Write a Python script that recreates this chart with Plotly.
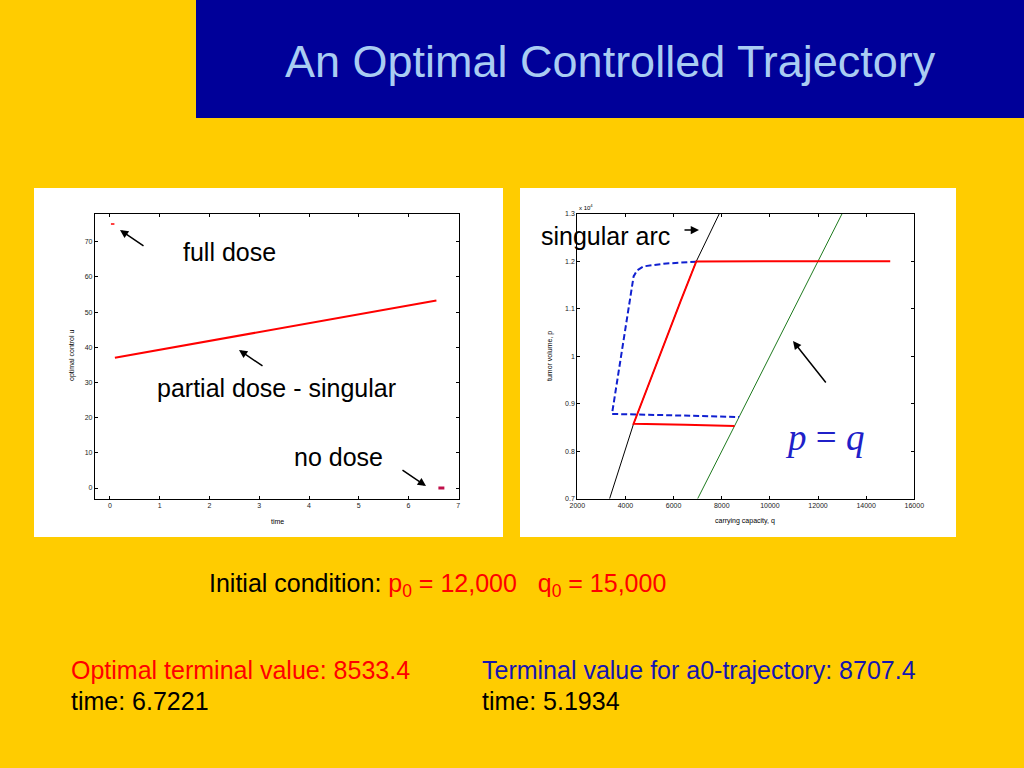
import plotly.graph_objects as go

# ---------------- data ----------------
# left panel: optimal control u(t)
full_t = [0.02, 0.09]
full_u = [75.0, 75.0]
partial_t = [0.10, 6.56]
partial_u = [37.0, 53.3]
none_t = [6.60, 6.72]
none_u = [0.0, 0.0]
left_xticks = [0, 1, 2, 3, 4, 5, 6, 7]
left_yticks = [0, 10, 20, 30, 40, 50, 60, 70]

# right panel: phase plane (q, p)
arc_q = [3342, 3800, 4339, 5000, 5650, 6300, 6943, 7420, 7899]
arc_p = [7000, 7750, 8579, 9450, 10320, 11170, 11996, 12510, 13000]
diag_q = [7000, 13000]
diag_p = [7000, 13000]
opt_q = [15000, 10000, 6943, 6300, 5650, 5000, 4339, 6500, 8533]
opt_p = [12000, 12000, 11996, 11170, 10320, 9450, 8579, 8555, 8533]
a0_q = [6943, 5585, 4754, 4480, 4339, 3441, 6000, 8720]
a0_p = [11990, 11947, 11891, 11807, 11680, 8784, 8755, 8720]
right_xticks = [2000, 4000, 6000, 8000, 10000, 12000, 14000, 16000]
right_xticklabels = ["2000", "4000", "6000", "8000", "10000", "12000", "14000", "16000"]
right_yticks = [7000, 8000, 9000, 10000, 11000, 12000, 13000]
right_yticklabels = ["0.7", "0.8", "0.9", "1", "1.1", "1.2", "1.3"]

W, H = 1024, 768
def px(x):
    return x / W
def py(y):
    return 1 - y / H

YELLOW = "#FFCC00"
RED = "#FF0000"
BLUE_TXT = "#1515B0"
FONT = "Liberation Sans, Arial, sans-serif"

fig = go.Figure()

# left traces
fig.add_trace(go.Scatter(x=full_t, y=full_u, mode="lines", line=dict(color=RED, width=1.5),
                         xaxis="x", yaxis="y", showlegend=False))
fig.add_trace(go.Scatter(x=partial_t, y=partial_u, mode="lines", line=dict(color=RED, width=2),
                         xaxis="x", yaxis="y", showlegend=False))
fig.add_trace(go.Scatter(x=none_t, y=none_u, mode="lines", line=dict(color="#C0104A", width=3),
                         xaxis="x", yaxis="y", showlegend=False))

# right traces
fig.add_trace(go.Scatter(x=arc_q, y=arc_p, mode="lines", line=dict(color="black", width=1),
                         xaxis="x2", yaxis="y2", showlegend=False))
fig.add_trace(go.Scatter(x=diag_q, y=diag_p, mode="lines", line=dict(color="#1E7A1E", width=1),
                         xaxis="x2", yaxis="y2", showlegend=False))
fig.add_trace(go.Scatter(x=a0_q, y=a0_p, mode="lines", line=dict(color="#1020D0", width=2, dash="6px,3px"),
                         xaxis="x2", yaxis="y2", showlegend=False))
fig.add_trace(go.Scatter(x=opt_q, y=opt_p, mode="lines", line=dict(color=RED, width=2),
                         xaxis="x2", yaxis="y2", showlegend=False))

axis_common = dict(showline=True, linecolor="black", linewidth=1.2, mirror="allticks",
                   ticks="inside", ticklen=3, tickcolor="black", showgrid=False, zeroline=False,
                   automargin=False,
                   tickfont=dict(family=FONT, size=7, color="#222"))

shapes = [
    dict(type="rect", xref="paper", yref="paper", x0=px(196), x1=px(1024), y0=py(118), y1=py(0),
         fillcolor="#000099", line=dict(width=0), layer="below"),
    dict(type="rect", xref="paper", yref="paper", x0=px(34), x1=px(503), y0=py(537), y1=py(188),
         fillcolor="white", line=dict(width=0), layer="below"),
    dict(type="rect", xref="paper", yref="paper", x0=px(520), x1=px(956), y0=py(537), y1=py(188),
         fillcolor="white", line=dict(width=0), layer="below"),
]

def txt(x, y, s, size=25, color="black", xanchor="left", family=FONT, textangle=0):
    return dict(x=px(x), y=py(y), xref="paper", yref="paper", text=s, showarrow=False,
                xanchor=xanchor, yanchor="middle", textangle=textangle,
                font=dict(family=family, size=size, color=color))

def arrow(hx, hy, tx, ty):
    return dict(x=px(hx), y=py(hy), xref="paper", yref="paper", text="", showarrow=True,
                ax=tx - hx, ay=ty - hy, arrowhead=2, arrowsize=1.1, arrowwidth=1.5, arrowcolor="black")

annotations = [
    txt(610, 62, "An Optimal Controlled Trajectory", size=45, color="#A9CCF2", xanchor="center"),
    txt(181, 252, "full dose"),
    txt(155, 388, "partial dose - singular"),
    txt(292, 457, "no dose"),
    txt(539, 236, "singular arc"),
    txt(824, 437, "<i>p</i> = <i>q</i>", size=37, color="#2020C8", xanchor="center",
        family="Liberation Serif, Times New Roman, serif"),
    txt(207, 585, "Initial condition: <span style='color:#FF0000'>p<sub>0</sub> = 12,000 &nbsp; q<sub>0</sub> = 15,000</span>", size=25),
    txt(69, 670, "Optimal terminal value: 8533.4", size=25, color=RED),
    txt(69, 701, "time: 6.7221", size=25),
    txt(480, 670, "Terminal value for a0-trajectory: 8707.4", size=25, color=BLUE_TXT),
    txt(480, 701, "time: 5.1934", size=25),
    # axis titles
    txt(277, 521, "time", size=7, xanchor="center"),
    txt(72, 356, "optimal control u", size=7, xanchor="center", textangle=-90),
    txt(745, 521, "carrying capacity, q", size=7, xanchor="center"),
    txt(550, 356, "tumor volume, p", size=7, xanchor="center", textangle=-90),
    txt(577, 207, "x 10<sup>4</sup>", size=6),
    # arrows
    arrow(120, 230, 145, 247),
    arrow(239, 350, 264, 367),
    arrow(426, 486, 401, 469),
    arrow(699, 230, 683, 230),
    arrow(793, 341, 827, 384),
]

fig.update_layout(
    width=W, height=H, margin=dict(l=0, r=0, t=0, b=0, pad=0, autoexpand=False),
    paper_bgcolor=YELLOW, plot_bgcolor="white",
    font=dict(family=FONT),
    xaxis=dict(domain=[px(95), px(459.3)], range=[-0.3, 7.02], tickvals=left_xticks, anchor="y", **axis_common),
    yaxis=dict(domain=[py(498.7), py(213.7)], range=[-3.04, 77.95], tickvals=left_yticks, anchor="x", **axis_common),
    xaxis2=dict(domain=[px(577.3), px(914.3)], range=[2000, 16000], tickvals=right_xticks,
                ticktext=right_xticklabels, anchor="y2", **axis_common),
    yaxis2=dict(domain=[py(498.7), py(213.7)], range=[7000, 13000], tickvals=right_yticks,
                ticktext=right_yticklabels, anchor="x2", **axis_common),
    shapes=shapes, annotations=annotations,
)

fig.write_html("out.html", config={"displayModeBar": False},
               post_script="document.body.style.margin='0';document.body.style.overflow='hidden';")
